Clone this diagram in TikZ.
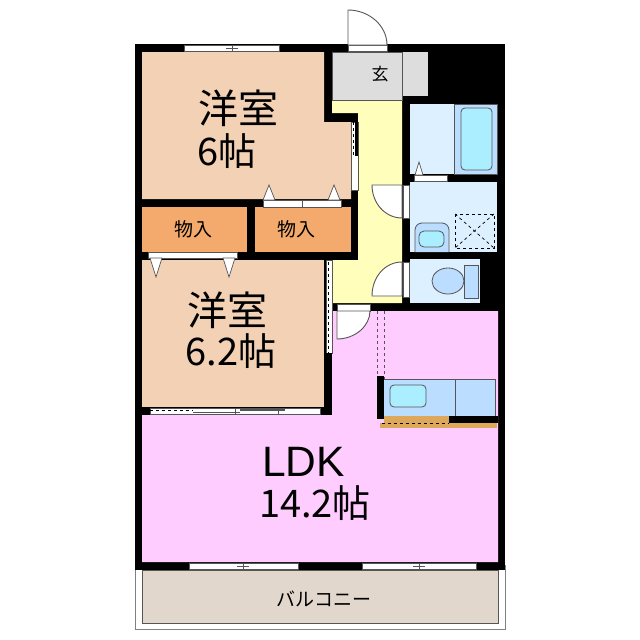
\documentclass[tikz,border=0pt]{standalone}
\usepackage{fontspec}
\setmainfont{Noto Sans CJK JP}
\newfontfamily\latinfont{Liberation Sans}
\definecolor{roompeach}{HTML}{F3D1B5}
\definecolor{closetorange}{HTML}{F3AA6C}
\definecolor{hallyellow}{HTML}{FFFFBB}
\definecolor{ldkpink}{HTML}{FFCCFF}
\definecolor{entrygrey}{HTML}{DDDDDD}
\definecolor{wetblue}{HTML}{DDF0FF}
\definecolor{fixblue}{HTML}{BBDDFF}
\definecolor{tubcyan}{HTML}{AAEEFF}
\definecolor{balconybeige}{HTML}{E2D7CC}
\definecolor{floorbrown}{HTML}{DDA85A}
\definecolor{linegrey}{HTML}{555555}
\tikzset{
  bigtext/.style={inner sep=0pt,font=\fontsize{40}{42}\selectfont},
  sizetext/.style={inner sep=0pt,font=\fontsize{38}{40}\selectfont},
  smalltext/.style={inner sep=0pt,font=\fontsize{19}{21}\selectfont},
  fixture/.style={draw=linegrey,line width=0.8pt},
  doorleaf/.style={draw=linegrey,fill=white,line width=0.9pt},
  strip/.style={fill=white,draw=linegrey,line width=0.6pt},
  pan/.style={draw=black,dashed,line width=0.7pt},
  arrowtri/.style={fill=white,draw=linegrey,line width=0.7pt}
}
\begin{document}
\begin{tikzpicture}[x=1pt,y=-1pt]
\useasboundingbox (0,0) rectangle (640,640);
\draw[draw=gray,fill=white,line width=0.8pt] (135,565) rectangle (505,629);
\fill[black] (135,44) rectangle (505,570);
\draw[fill=balconybeige,draw=linegrey,line width=0.9pt] (142,570) rectangle (498,623);
\fill[roompeach] (142,52)--(324,52)--(324,122)--(351,122)--(351,199)--(142,199)--cycle;
\fill[roompeach] (142,260) rectangle (324,407);
\fill[closetorange] (142,207) rectangle (247,252);
\fill[closetorange] (255,207) rectangle (351,252);
\fill[hallyellow] (332,100)--(402,100)--(402,303)--(333,303)--(333,260)--(358,260)--(358,113)--(332,113)--cycle;
\fill[ldkpink] (142,415)--(332,415)--(332,311)--(498,311)--(498,562)--(142,562)--cycle;
\draw[fixture,fill=entrygrey] (332,52) rectangle (402,100);
\draw[fixture,fill=entrygrey,draw=none] (403,52) rectangle (428,96);
\draw[fill=wetblue,draw=none] (410,104) rectangle (497,174);
\draw[fixture,fill=fixblue] (454,104) rectangle (497,174);
\draw[fixture,fill=tubcyan,rounded corners=4pt] (461,108) rectangle (492,170);
\fill[wetblue] (410,182) rectangle (497,252);
\fill[wetblue] (410,259) rectangle (480,303);
\draw[fixture,fill=fixblue,rounded corners=7pt] (415,252)--(415,223)--(449,223)--(449,252);
\draw[fixture,fill=tubcyan,rounded corners=5pt] (419,247)--(419,231)--(444,231)--(444,247)--cycle;
\draw[pan] (455,214) rectangle (494,248);
\draw[pan] (455,214)--(494,248);
\draw[pan] (494,214)--(455,248);
\draw[fixture,fill=fixblue] (448,281) ellipse (16 and 13);
\draw[fixture,fill=fixblue] (464,265) rectangle (478,298);
\fill[fixblue] (384,379) rectangle (495,416);
\draw[fixture] (384,379)--(495,379)--(495,416);
\draw[fixture] (455,379)--(455,416);
\draw[fixture,fill=tubcyan,rounded corners=4pt] (390,385) rectangle (426,407);
\fill[floorbrown] (384,416) rectangle (449,423);
\fill[floorbrown] (380,423) rectangle (497,428);
\fill[black] (449,416) rectangle (498,423);
\draw[draw=black,dashed,line width=0.7pt] (382,423)--(449,423);
\draw[draw=linegrey,dashed,line width=1pt] (377,311)--(377,376);
\draw[draw=linegrey,dashed,line width=1pt] (384,311)--(384,379);
\fill[black] (377,376) rectangle (384,419);
\draw[strip] (184,45) rectangle (279,51.5);
\draw[linegrey,line width=0.8pt] (232,45)--(232,51.5);
\draw[linegrey,line width=0.8pt] (226,48)--(238,48);
\draw[strip] (189,563) rectangle (298,569);
\draw[linegrey,line width=0.8pt] (243,563)--(243,569);
\draw[linegrey,line width=0.8pt] (237,566)--(249,566);
\draw[strip] (362,563) rectangle (476,569);
\draw[linegrey,line width=0.8pt] (419,563)--(419,569);
\draw[linegrey,line width=0.8pt] (413,566)--(425,566);
\draw[strip] (150,408) rectangle (320,414);
\draw[linegrey,line width=0.8pt] (235,408)--(235,414);
\draw[linegrey,line width=0.8pt] (278,408)--(278,414);
\draw[draw=black,dashed,line width=1pt] (150,410)--(193,410);
\draw[linegrey,line width=1.2pt] (193,412.5)--(240,412.5);
\draw[linegrey,line width=1.2pt] (240,410)--(285,410);
\draw[strip] (351,122) rectangle (358,190);
\fill[black] (355,122) rectangle (358,156);
\draw[draw=black,dashed,line width=0.8pt] (353,122)--(353,156);
\draw[strip] (326,260) rectangle (332,353);
\draw[draw=black,dashed,line width=0.8pt] (328,262)--(328,353);
\fill[black] (326,353) rectangle (332,415);
\draw[strip] (263,200) rectangle (302,207);
\draw[strip] (302,200) rectangle (341,207);
\draw[arrowtri] (263,200)--(269,185)--(275,200)--cycle;
\draw[arrowtri] (328,200)--(334,185)--(340,200)--cycle;
\draw[strip] (148,252) rectangle (237,258);
\draw[arrowtri] (150,258)--(156,277)--(162,258)--cycle;
\draw[arrowtri] (223,258)--(229,277)--(235,258)--cycle;
\draw[strip] (414,175) rectangle (447,181);
\draw[arrowtri] (415,175)--(419,162)--(423,175)--cycle;
\draw[strip] (348,45) rectangle (387,51);
\draw[doorleaf] (348,45)--(348,10) .. controls (369.5,10) and (387,26) .. (387,45)--cycle;
\draw[strip] (403,185) rectangle (409,218);
\draw[doorleaf] (402,218)--(402,185)--(372,185) .. controls (372,203) and (385,218) .. (402,218)--cycle;
\draw[strip] (403,262) rectangle (409,297);
\draw[doorleaf] (402,262)--(402,296)--(372,296) .. controls (372,277) and (385,262) .. (402,262)--cycle;
\draw[strip] (337,304) rectangle (370,311);
\draw[doorleaf] (337,311)--(337,339) .. controls (355,339) and (370,326) .. (370,311)--cycle;
\node at (238,108)[bigtext](room1name){洋室};
\node at (227,151)[sizetext](room1size){6帖};
\node at (227,310)[bigtext](room2name){洋室};
\node at (231,351)[sizetext](room2size){6.2帖};
\node at (303.5,462)[bigtext,font=\latinfont\fontsize{42.5}{44}\selectfont](ldkname){LDK};
\node at (315,503)[sizetext](ldksize){14.2帖};
\node at (193,229)[smalltext](closet1){物入};
\node at (296,229)[smalltext](closet2){物入};
\node at (380,74)[smalltext,font=\fontsize{17}{18}\selectfont](entry){玄};
\node at (324,599)[smalltext](balcony){バルコニー};
\end{tikzpicture}
\end{document}
